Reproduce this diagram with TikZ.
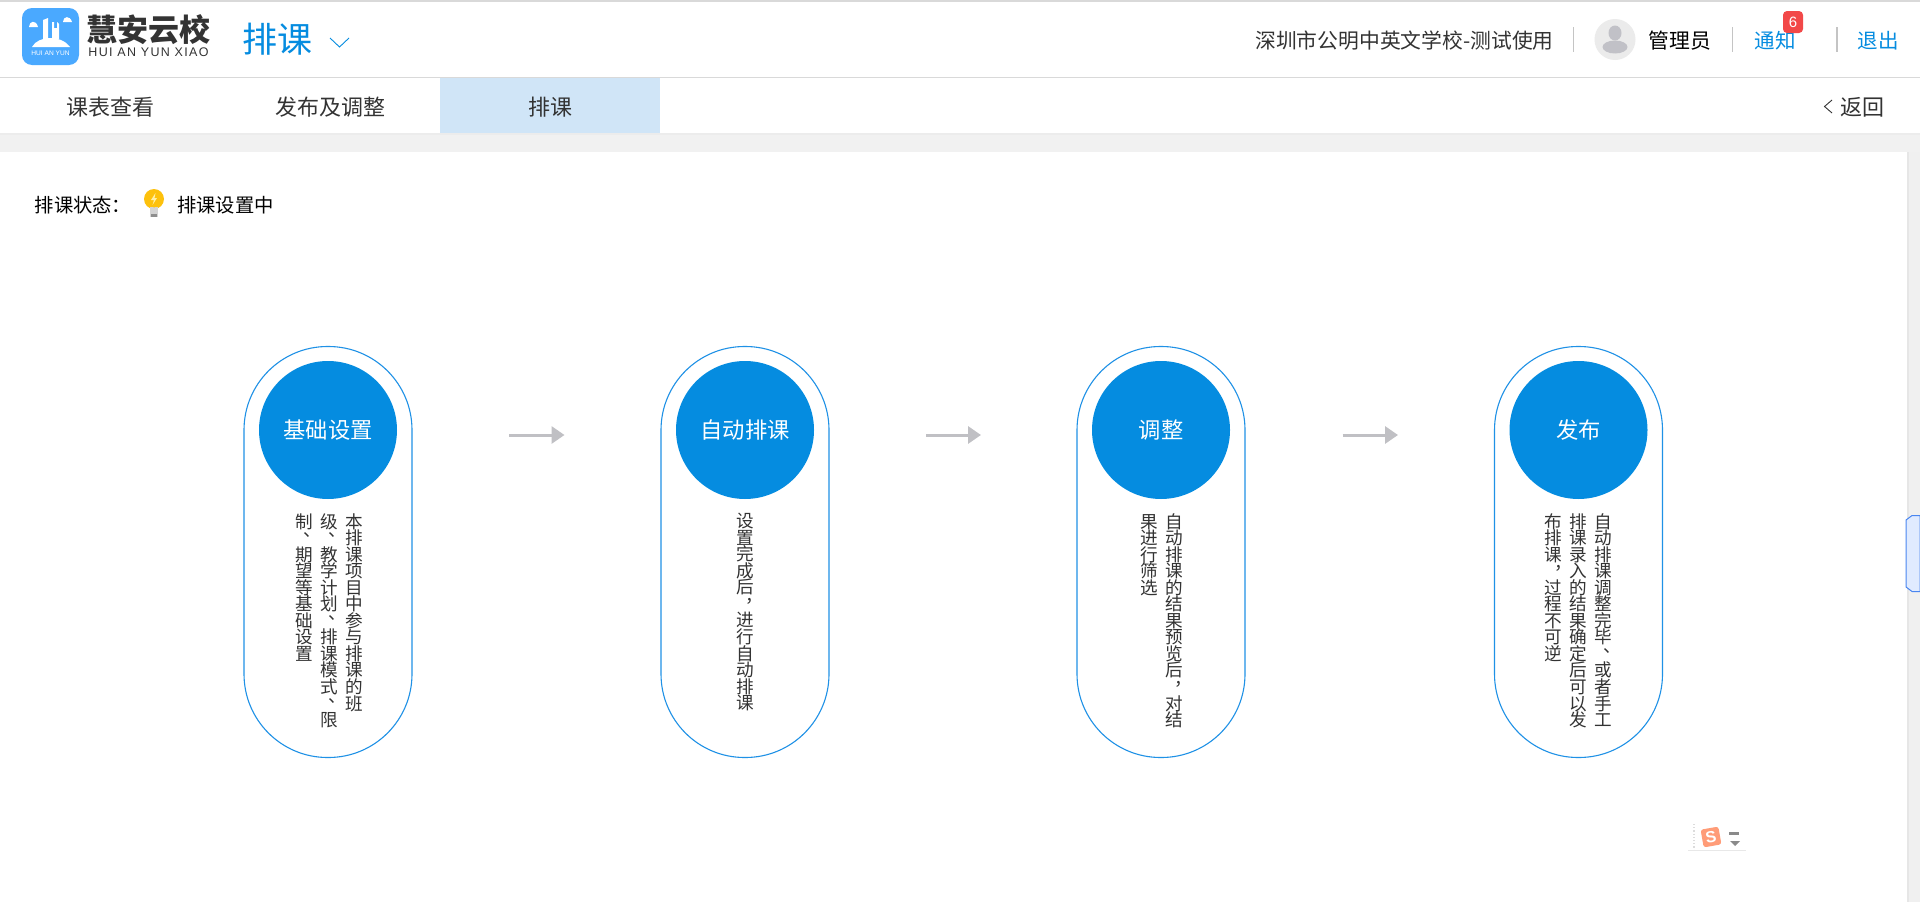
\documentclass[tikz,border=0pt]{standalone}
\usepackage{fontspec}
\usetikzlibrary{arrows.meta}
\setmainfont{Liberation Sans}
\newfontfamily\cjk{Noto Sans CJK SC}
\newfontfamily\wideen[LetterSpace=10.5]{Liberation Sans}
\definecolor{brand}{HTML}{058CE0}
\definecolor{pillline}{HTML}{1F91E6}
\definecolor{inktext}{HTML}{333333}
\definecolor{arrowgray}{HTML}{C0C0C4}
\definecolor{sep}{HTML}{C4C4C4}
\definecolor{rule}{HTML}{D9D9D9}
\definecolor{band}{HTML}{F1F1F1}
\definecolor{bandtop}{HTML}{ECECEC}
\definecolor{logoblue}{HTML}{4AA9FF}
\definecolor{avatarbg}{HTML}{EBEBEB}
\definecolor{avatarfg}{HTML}{C1C1C7}
\definecolor{badgered}{HTML}{F24848}
\definecolor{tabactive}{HTML}{D0E5F7}
\definecolor{bulb}{HTML}{FDC10D}
\definecolor{bulbbase}{HTML}{D4D4D4}
\definecolor{bulbdark}{HTML}{8E8E8E}
\definecolor{bolt}{HTML}{FFF0A8}
\definecolor{track}{HTML}{F0F0F0}
\definecolor{trackedge}{HTML}{E6E6E6}
\definecolor{thumbline}{HTML}{4A86F0}
\definecolor{thumbfill}{HTML}{E0EBFF}
\definecolor{imedots}{HTML}{DCDCDC}
\definecolor{imeline}{HTML}{E8E8E8}
\definecolor{imeorange}{HTML}{FF9C78}
\definecolor{imegray}{HTML}{8A8A8A}
\makeatletter
\def\vdun{、}\def\vdou{，}
\newcommand\vcol[1]{\vtop{\baselineskip=16.55pt\lineskiplimit=-30pt\lineskip=0pt\@tfor\vch:=#1\do{%
  \ifx\vch\vdun\hbox to 17pt{\raise 8pt\hbox{\kern 8pt\vch}\hss}%
  \else\ifx\vch\vdou\hbox to 17pt{\raise 8pt\hbox{\kern 9pt\vch}\hss}%
  \else\hbox to 17pt{\hss\vch\hss}\fi\fi}}}
\makeatother
\tikzset{
  x=1pt,y=-1pt,
  txt/.style={inner sep=0pt,anchor=center,font=\cjk\fontsize{#1}{#1}\selectfont},
  tab/.style={txt=22,text=inktext},
  head/.style={txt=20.8,text=inktext},
  link/.style={txt=20.5,text=brand},
  pill/.style={draw=pillline,line width=1.1pt,fill=white,rounded corners=83.5pt,minimum width=168pt,minimum height=411pt,inner sep=0pt},
  disc/.style={circle,fill=brand,text=white,minimum size=138pt,inner sep=0pt,font=\cjk\fontsize{22.3}{22.3}\selectfont},
  vtext/.style={inner sep=0pt,anchor=north,text=inktext,font=\cjk\fontsize{17.6}{17.6}\selectfont},
  flow/.style={draw=arrowgray,line width=3pt,-{Triangle[length=13pt,width=17pt,fill=arrowgray]}},
  sepline/.style={draw=sep,line width=1pt},
}
\begin{document}
\begin{tikzpicture}
\useasboundingbox (0,0) rectangle (1920,902);
\fill[white] (0,0) rectangle (1920,902);
% header rules
\fill[rule] (0,0) rectangle (1920,1.5);
\fill[rule] (0,76.5) rectangle (1920,78);
\fill[band] (0,133) rectangle (1920,152);
\fill[bandtop] (0,133) rectangle (1920,135);
% logo
\fill[logoblue,rounded corners=10pt] (22,8) rectangle (79,65);
\fill[white] (32,47) .. controls (35,41) and (43,38) .. (50,38) .. controls (58,38) and (66,41) .. (70,47) -- cycle;
\fill[white] (43,39) -- (43,20) -- (48,18) -- (48,39) -- cycle;
\fill[white] (52,39) -- (52,22) -- (54,22) -- (54,28) -- (57,28) -- (57,22) -- (59,24) -- (59,39) -- cycle;
\fill[white] (29,27) .. controls (29,21) and (36,19) .. (38,27) -- cycle;
\fill[white] (63,22) .. controls (63,16) and (70,15) .. (72,22) -- cycle;
\node[inner sep=0pt,text=white,font=\fontsize{6.6}{6.6}\selectfont] (logoen) at (50.5,53.5) {HUI AN YUN};
\node[inner sep=0pt,anchor=center,text=inktext,font=\cjk\bfseries\fontsize{31}{31}\selectfont] (brandcn) at (148,30) {慧安云校};
\node[inner sep=0pt,text=inktext,font=\wideen\fontsize{12.5}{12.5}\selectfont] (branden) at (148.5,52) {HUI AN YUN XIAO};
\node[txt=35,text=brand] (title) at (277.5,39) {排课};
\draw[brand,line width=0.9pt] (330,38) -- (339.5,47) -- (349,38);
% header right
\node[head,anchor=west] (school) at (1255,41) {深圳市公明中英文学校-测试使用};
\draw[sepline] (1573.5,27) -- (1573.5,52);
\fill[avatarbg] (1615,39.5) circle[radius=20.5pt];
\fill[avatarfg] (1615,33) ellipse[x radius=6.5pt,y radius=7.5pt];
\fill[avatarfg] (1615,47) ellipse[x radius=12.5pt,y radius=6.5pt];
\node[txt=20.8,text=black] (admin) at (1680,41) {管理员};
\draw[sepline] (1732.5,27) -- (1732.5,52);
\node[link] (notice) at (1775,41) {通知};
\fill[badgered,rounded corners=4pt] (1783,11) rectangle (1803,33);
\node[inner sep=0pt,text=white,font=\fontsize{15}{15}\selectfont] (badge) at (1793,22) {6};
\draw[sep,line width=2pt] (1837,27) -- (1837,52);
\node[link] (logout) at (1878,41) {退出};
% tabs
\fill[tabactive] (440,78) rectangle (660,133);
\node[tab] (tab1) at (110,107) {课表查看};
\node[tab] (tab2) at (330,107) {发布及调整};
\node[tab] (tab3) at (550,107) {排课};
\draw[inktext,line width=0.9pt] (1832,100) -- (1824.5,106.5) -- (1832,113);
\node[tab] (back) at (1862,107) {返回};
% status
\node[txt=19.3,text=black,anchor=west] (statl) at (34.5,205) {排课状态：};
\fill[bulb] (154,199) circle[radius=10pt];
\fill[bulbbase] (150,207) rectangle (158,217);
\fill[bulbdark] (151,214) rectangle (157,217);
\fill[bulb] (150,200) -- (154,208) -- (158,200) -- cycle;
\fill[bolt] (155.5,193) -- (151,200) -- (154,200) -- (152.5,205) -- (157,198) -- (154.5,198) -- cycle;
\node[txt=19.3,text=black,anchor=west] (statv) at (177,205) {排课设置中};
% pills
\node[pill] (p1) at (328,552) {};
\node[pill] (p2) at (745,552) {};
\node[pill] (p3) at (1161,552) {};
\node[pill] (p4) at (1578.5,552) {};
\node[disc] (c1) at (328,430) {基础设置};
\node[disc] (c2) at (745,430) {自动排课};
\node[disc] (c3) at (1161,430) {调整};
\node[disc] (c4) at (1578.5,430) {发布};
\node[vtext] (t1) at (329,513) {\hbox{\vcol{制、期望等基础设置}\hskip 8pt\vcol{级、教学计划、排课模式、限}\hskip 8pt\vcol{本排课项目中参与排课的班}}};
\node[vtext] (t2) at (745,513) {\hbox{\vcol{设置完成后，进行自动排课}}};
\node[vtext] (t3) at (1161.5,513) {\hbox{\vcol{果进行筛选}\hskip 8pt\vcol{自动排课的结果预览后，对结}}};
\node[vtext] (t4) at (1578.5,513) {\hbox{\vcol{布排课，过程不可逆}\hskip 8pt\vcol{排课录入的结果确定后可以发}\hskip 8pt\vcol{自动排课调整完毕、或者手工}}};
% arrows
\coordinate (a1s) at (509,435); \coordinate (a1e) at (564.5,435);
\coordinate (a2s) at (926,435); \coordinate (a2e) at (981,435);
\coordinate (a3s) at (1342.5,435); \coordinate (a3e) at (1398,435);
\draw[flow] (a1s) -- (a1e);
\draw[flow] (a2s) -- (a2e);
\draw[flow] (a3s) -- (a3e);
% scrollbar
\fill[track] (1907,152) rectangle (1920,902);
\fill[trackedge] (1907,152) rectangle (1908.5,902);
\draw[draw=thumbline,fill=thumbfill,line width=1pt] (1906,520) -- (1912,515.5) -- (1920,515.5) -- (1920,591.5) -- (1912,591.5) -- (1906,587) -- cycle;
% input method icon
\draw[imedots,line width=1.2pt,dotted] (1694,824) -- (1694,850);
\draw[imeline,line width=0.8pt] (1688,850.5) -- (1746,850.5);
\node[rotate=10,fill=imeorange,rounded corners=2.5pt,minimum size=18pt,inner sep=0pt,text=white,font=\bfseries\fontsize{16}{16}\selectfont] (sogou) at (1711,837) {S};
\fill[imegray] (1729,832) rectangle (1739,834.5);
\fill[imegray] (1730,841) -- (1740,841) -- (1735,846) -- cycle;
\end{tikzpicture}
\end{document}
